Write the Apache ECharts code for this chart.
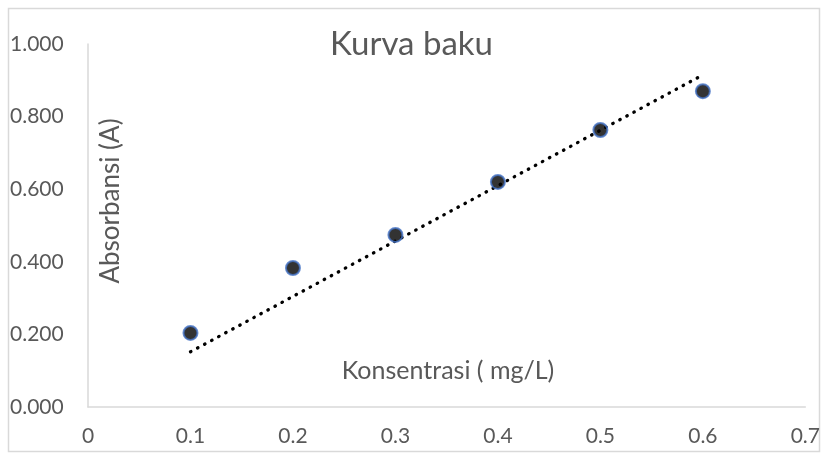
<!DOCTYPE html>
<html>
<head>
<meta charset="utf-8">
<script src="https://cdn.jsdelivr.net/npm/echarts@6/dist/echarts.min.js"></script>
<style>
html,body{margin:0;padding:0;background:#ffffff;}
#chart{width:823px;height:454px;}
</style>
</head>
<body>
<div id="chart"></div>
<script>
const xTicks = [0, 0.1, 0.2, 0.3, 0.4, 0.5, 0.6, 0.7];
const yTicks = [0, 0.2, 0.4, 0.6, 0.8, 1.0];
const konsentrasi = [0.1, 0.2, 0.3, 0.4, 0.5, 0.6];
const absorbansi = [0.204, 0.383, 0.474, 0.620, 0.763, 0.870];
const trendX = [0.1, 0.6];
const trendY = [0.152, 0.915];

const FONT = 'Lato';
const GREY = '#595959';

const chart = echarts.init(document.getElementById('chart'), null, {renderer: 'canvas'});
chart.setOption({
  backgroundColor: '#ffffff',
  animation: false,
  title: {
    text: 'Kurva baku',
    left: 'center',
    top: 23,
    textStyle: {fontFamily: FONT, fontSize: 33, fontWeight: 'normal', color: GREY}
  },
  grid: {left: 88, right: 15, top: 44, bottom: 47},
  xAxis: {
    type: 'value',
    min: xTicks[0],
    max: xTicks[xTicks.length - 1],
    interval: 0.1,
    axisLine: {show: true, lineStyle: {color: '#d9d9d9', width: 1.5}},
    axisTick: {show: false},
    splitLine: {show: false},
    axisLabel: {
      fontFamily: FONT, fontSize: 21, color: GREY, margin: 19,
      formatter: v => (Math.abs(v) < 1e-9 ? '0' : v.toFixed(1))
    }
  },
  yAxis: {
    type: 'value',
    min: yTicks[0],
    max: yTicks[yTicks.length - 1],
    interval: 0.2,
    axisLine: {show: true, lineStyle: {color: '#d9d9d9', width: 1.5}},
    axisTick: {show: false},
    splitLine: {show: false},
    axisLabel: {
      fontFamily: FONT, fontSize: 21, color: GREY, margin: 78, align: 'left',
      formatter: v => v.toFixed(3)
    }
  },
  graphic: [
    {type: 'rect', shape: {x: 8.5, y: 8.5, width: 811, height: 443}, style: {fill: 'none', stroke: '#d9d9d9', lineWidth: 1.5}, silent: true},
    {type: 'text', x: 111, y: 201, rotation: Math.PI / 2,
      style: {text: 'Absorbansi (A)', fontFamily: FONT, fontSize: 26, fill: GREY, align: 'center', verticalAlign: 'middle'}},
    {type: 'text', x: 448, y: 371,
      style: {text: 'Konsentrasi ( mg/L)', fontFamily: FONT, fontSize: 25, fill: GREY, align: 'center', verticalAlign: 'middle'}}
  ],
  series: [
    {
      type: 'line',
      data: trendX.map((x, i) => [x, trendY[i]]),
      showSymbol: false,
      symbol: 'none',
      lineStyle: {color: '#000000', width: 3.3, type: [0.5, 7.5], cap: 'round'},
      z: 2
    },
    {
      type: 'scatter',
      data: konsentrasi.map((x, i) => [x, absorbansi[i]]),
      symbol: 'circle',
      symbolSize: 14,
      itemStyle: {color: '#000000', borderColor: '#4472c4', borderWidth: 2},
      z: 3
    }
  ]
});
</script>
</body>
</html>
